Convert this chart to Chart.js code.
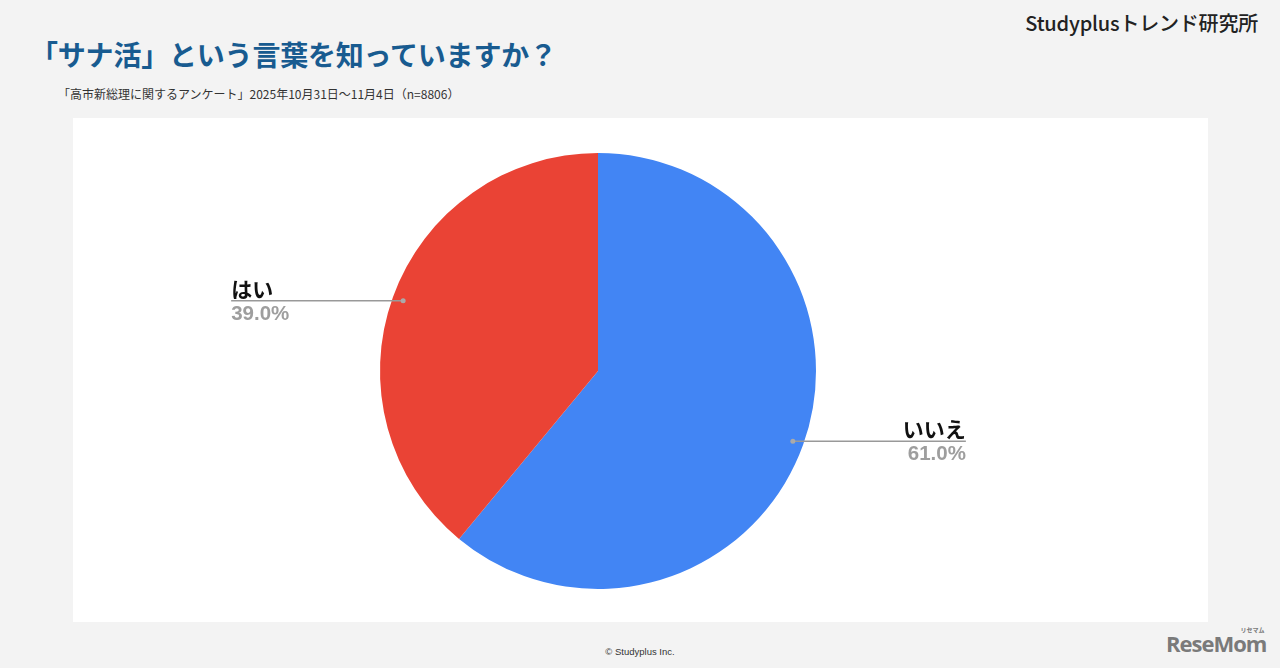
<!DOCTYPE html>
<html>
<head>
<meta charset="utf-8">
<script src="https://cdn.jsdelivr.net/npm/chart.js@4"></script>
<style>
  body { margin: 0; width: 1280px; height: 668px; background: #f3f3f3; position: relative; overflow: hidden; font-family: "Noto Sans CJK JP", "Noto Sans", sans-serif; }
  .title { position: absolute; left: 30px; top: 34px; font-size: 28px; font-weight: 700; color: #185b90; letter-spacing: -0.2px; }
  .sub { position: absolute; left: 58px; top: 85px; font-size: 12px; color: #333; }
  .brand { position: absolute; right: 22px; top: 8px; font-size: 20px; font-weight: 500; color: #222; letter-spacing: -0.2px; }
  .box { position: absolute; left: 73px; top: 118px; width: 1135px; height: 504px; background: #fff; }
  .copy { position: absolute; left: 0; width: 1280px; top: 646px; text-align: center; font-size: 9.5px; color: #333; font-family: "Liberation Sans", Arial, sans-serif; }
  .logo { position: absolute; left: 1166px; top: 628px; font-size: 22px; font-weight: 700; color: #7a7a7a; font-family: "Open Sans", sans-serif; letter-spacing: -1px; }
  .logo small { position: absolute; right: 2px; top: -3px; font-size: 6px; letter-spacing: 0; font-family: "Noto Sans CJK JP"; }
</style>
</head>
<body>
<div class="title">「サナ活」という言葉を知っていますか？</div>
<div class="sub">「高市新総理に関するアンケート」2025年10月31日～11月4日（n=8806）</div>
<div class="brand">Studyplusトレンド研究所</div>
<div class="box"><canvas id="pie" width="1135" height="504"></canvas></div>
<div class="copy">© Studyplus Inc.</div>
<div class="logo">ReseMom<small>リセマム</small></div>
<script>
const labels = ["いいえ", "はい"];
const values = [61.0, 39.0];
const colors = ["#4285f4", "#ea4335"];

const leaderPlugin = {
  id: "leader",
  afterDraw(chart) {
    const ctx = chart.ctx;
    const arcs = chart.getDatasetMeta(0).data;
    arcs.forEach(function(arc, i) {
      const mid = (arc.startAngle + arc.endAngle) / 2;
      const r = arc.outerRadius * 0.95;
      const dx = arc.x + Math.cos(mid) * r;
      const dy = arc.y + Math.sin(mid) * r;
      const right = Math.cos(mid) > 0;
      const ex = right ? dx + 173 : dx - 172;
      ctx.save();
      ctx.strokeStyle = "#999";
      ctx.lineWidth = 1.5;
      ctx.beginPath();
      ctx.moveTo(dx, dy);
      ctx.lineTo(ex, dy);
      ctx.stroke();
      ctx.fillStyle = "#aaa";
      ctx.beginPath();
      ctx.arc(dx, dy, 2.5, 0, Math.PI * 2);
      ctx.fill();
      ctx.textAlign = right ? "right" : "left";
      ctx.font = "bold 21px 'Noto Sans CJK JP'";
      ctx.fillStyle = "#111";
      ctx.textBaseline = "alphabetic";
      ctx.fillText(labels[i], ex, dy - 4);
      ctx.font = "bold 20.5px 'Liberation Sans', Arial";
      ctx.fillStyle = "#9e9e9e";
      ctx.textBaseline = "top";
      ctx.fillText(values[i].toFixed(1) + "%", ex, dy + 3);
      ctx.restore();
    });
  }
};

new Chart(document.getElementById("pie"), {
  type: "pie",
  data: {
    labels: labels,
    datasets: [{
      data: values,
      backgroundColor: colors,
      borderWidth: 0
    }]
  },
  options: {
    responsive: false,
    animation: false,
    layout: { padding: { top: 35, bottom: 33, left: 0, right: 85 } },
    plugins: {
      legend: { display: false },
      tooltip: { enabled: false }
    }
  },
  plugins: [leaderPlugin]
});
</script>
</body>
</html>
